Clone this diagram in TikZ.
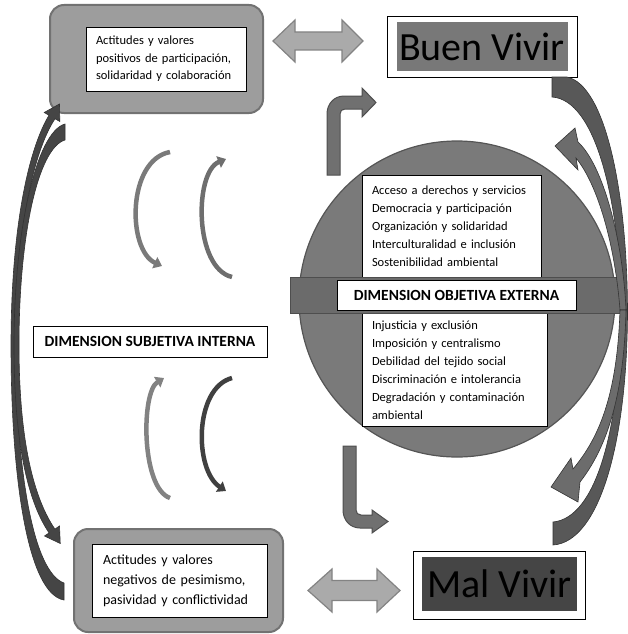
\documentclass[tikz,border=0pt]{standalone}
\usepackage{fontspec}
\setmainfont{Carlito}
\usetikzlibrary{arrows.meta, positioning}

\definecolor{framegray}{HTML}{9D9D9D}
\definecolor{frameedge}{HTML}{727272}
\definecolor{spheregray}{HTML}{7A7A7A}
\definecolor{sphereedge}{HTML}{555555}
\definecolor{bargray}{HTML}{6B6B6B}
\definecolor{baredge}{HTML}{4E4E4E}
\definecolor{dblgray}{HTML}{AAAAAA}
\definecolor{dbledge}{HTML}{838383}
\definecolor{bentgray}{HTML}{707070}
\definecolor{bentedge}{HTML}{4E4E4E}
\definecolor{leftdark}{HTML}{454545}
\definecolor{rightdark}{HTML}{585858}
\definecolor{rightlight}{HTML}{6C6C6C}
\definecolor{buengray}{HTML}{787878}
\definecolor{malgray}{HTML}{454545}

\tikzset{
  roundbox/.style={draw=frameedge, line width=2pt, fill=framegray, rounded corners=14pt, inner sep=0pt},
  whitebox/.style={draw=black, fill=white, line width=0.7pt, align=left, inner ysep=0pt, inner xsep=10pt},
  textlist/.style={font=\fontsize{12.5}{18}\selectfont},
  titlebox/.style={draw=black, fill=white, line width=0.7pt, inner sep=0pt, font=\bfseries\fontsize{15.5}{17}\selectfont},
  vivirbox/.style={draw=black, fill=white, line width=0.9pt, inner sep=0pt},
  vivirtext/.style={inner sep=0pt, font=\fontsize{40}{40}\selectfont},
  dblarrow/.style={draw=dbledge, fill=dblgray, line width=1.2pt, line join=miter},
  bentarrow/.style={draw=bentedge, fill=bentgray, line width=1pt},
  bigcurve/.style={draw=black!80, line width=0.6pt},
  smallarc/.style={line width=4.5pt, -{Triangle[width=12pt,length=8pt]}}
}

\begin{document}
\begin{tikzpicture}[x=1pt,y=-1pt]
\useasboundingbox (0,0) rectangle (628,634);

% dimension objetiva externa
\node[circle, draw=sphereedge, fill=spheregray, line width=1.2pt, minimum size=316pt, inner sep=0pt] (sphere) at (457,299) {};
\node[whitebox, textlist, text width=159pt, minimum height=102pt] (good) at (451.5,226)
  {Acceso a derechos y servicios\\Democracia y participación\\Organización y solidaridad\\Interculturalidad e inclusión\\Sostenibilidad ambiental};
\node[whitebox, textlist, text width=165pt, minimum height=113pt] (bad) at (454.5,370)
  {Injusticia y exclusión\\Imposición y centralismo\\Debilidad del tejido social\\Discriminación e intolerancia\\Degradación y contaminación\\ambiental};
\node[draw=baredge, fill=bargray, line width=1pt, minimum width=333pt, minimum height=36pt, inner sep=0pt] (bar) at (456.5,295) {};
\node[titlebox, minimum width=239pt, minimum height=30pt] (extlabel) at (bar) {DIMENSION OBJETIVA EXTERNA};

% buen vivir / mal vivir
\node[vivirbox, minimum width=190pt, minimum height=61pt] (buenframe) at (482,46.5) {};
\node[vivirtext, fill=buengray, minimum width=171pt, minimum height=49pt] (buen) at (buenframe) {Buen Vivir};
\node[vivirbox, minimum width=172pt, minimum height=68pt] (malframe) at (499,585) {};
\node[vivirtext, fill=malgray, minimum width=155pt, minimum height=54pt] (mal) at (499.5,584) {Mal Vivir};

% dimension subjetiva interna
\node[roundbox, minimum width=213pt, minimum height=108pt] (posframe) at (156.5,59) {};
\node[whitebox, text width=140pt, minimum height=64pt, font=\fontsize{12.5}{17.5}\selectfont] (pos) at (166,59)
  {Actitudes y valores\\positivos de participación,\\solidaridad y colaboración};
\node[roundbox, minimum width=209pt, minimum height=103pt] (negframe) at (178.5,580.5) {};
\node[whitebox, inner xsep=11pt, text width=153pt, minimum height=73pt, font=\fontsize{14}{20}\selectfont] (neg) at (179.5,580.5)
  {Actitudes y valores\\negativos de pesimismo,\\pasividad y conflictividad};
\node[titlebox, minimum width=234pt, minimum height=31pt] (intlabel) at (150,341.5) {DIMENSION SUBJETIVA INTERNA};

% flechas dobles
\filldraw[dblarrow] (273,41) -- (295,20) -- (295,32) -- (342,32) -- (342,20) -- (363,41)
  -- (342,62) -- (342,50) -- (295,50) -- (295,62) -- cycle;
\filldraw[dblarrow] (308,590.5) -- (332,569) -- (332,580.5) -- (377,580.5) -- (377,569) -- (400,590.5)
  -- (377,612) -- (377,600.5) -- (332,600.5) -- (332,612) -- cycle;

% flechas dobladas
\filldraw[bentarrow] (327,175) -- (327,114) .. controls (327,104) and (334,96) .. (344,96) -- (362,96) -- (362,88)
  -- (376,102.5) -- (362,117) -- (362,109) -- (345,109) .. controls (342,109) and (340,111) .. (340,114) -- (340,175) -- cycle;
\filldraw[bentarrow] (343,446) -- (343,510) .. controls (343,520) and (350,528) .. (360,528) -- (372,528) -- (372,533)
  -- (388,521.5) -- (372,510) -- (372,515) -- (361,515) .. controls (358,515) and (356,513) .. (356,510) -- (356,446) -- cycle;

% arcos pequenos
\draw[smallarc, color=black!52] (170,152) .. controls (127,160) and (127,250) .. (162,266);
\draw[smallarc, color=black!57] (232,277) .. controls (194,268) and (194,172) .. (226,159);
\draw[smallarc, color=black!49] (170,498) .. controls (141,488) and (141,392) .. (164,378);
\draw[smallarc, color=black!75] (232,378) .. controls (194,388) and (194,470) .. (226,491);

% flechas curvas izquierda
\filldraw[bigcurve, fill=leftdark] (64,600) .. controls (28,594) and (11,480) .. (11,345)
  .. controls (11,230) and (28,150) .. (49,115.25) -- (44.2,112.5) -- (59.5,104) -- (59.8,121.5)
  -- (55,118.75) .. controls (33,152) and (16,232) .. (16,345) .. controls (16,470) and (33,572) .. (64,583) -- cycle;
\filldraw[bigcurve, fill=leftdark] (65,124) .. controls (36,132) and (14,232) .. (14,345)
  .. controls (14,450) and (30,505) .. (49.1,532.9) -- (44.5,536) -- (60.25,543.5) -- (59.5,526)
  -- (54.9,529.1) .. controls (35,500) and (19,445) .. (19,345) .. controls (19,235) and (38,148) .. (65,140) -- cycle;

% flechas curvas derecha
\filldraw[bigcurve, fill=rightdark] (552,77) -- (567,77) .. controls (605,85) and (627,190) .. (627.5,310)
  -- (622,310) .. controls (619,200) and (596,100) .. (552,97) -- cycle;
\filldraw[bigcurve, fill=rightdark] (553,545) .. controls (600,542) and (627.5,440) .. (627.5,310)
  -- (621,310) .. controls (620,430) and (596,518) .. (553,522) -- cycle;
\filldraw[bigcurve, fill=rightlight] (626,310) .. controls (623,240) and (603,165) .. (578,142)
  -- (575,128) -- (555,146) -- (578,170) -- (576,158)
  .. controls (598,185) and (615,245) .. (620,310) -- cycle;
\filldraw[bigcurve, fill=rightlight] (626,310) .. controls (624,400) and (605,450) .. (580,482)
  -- (578,502) -- (551,487) -- (571,458) -- (573,469)
  .. controls (597,440) and (617,400) .. (620,310) -- cycle;

\end{tikzpicture}
\end{document}
